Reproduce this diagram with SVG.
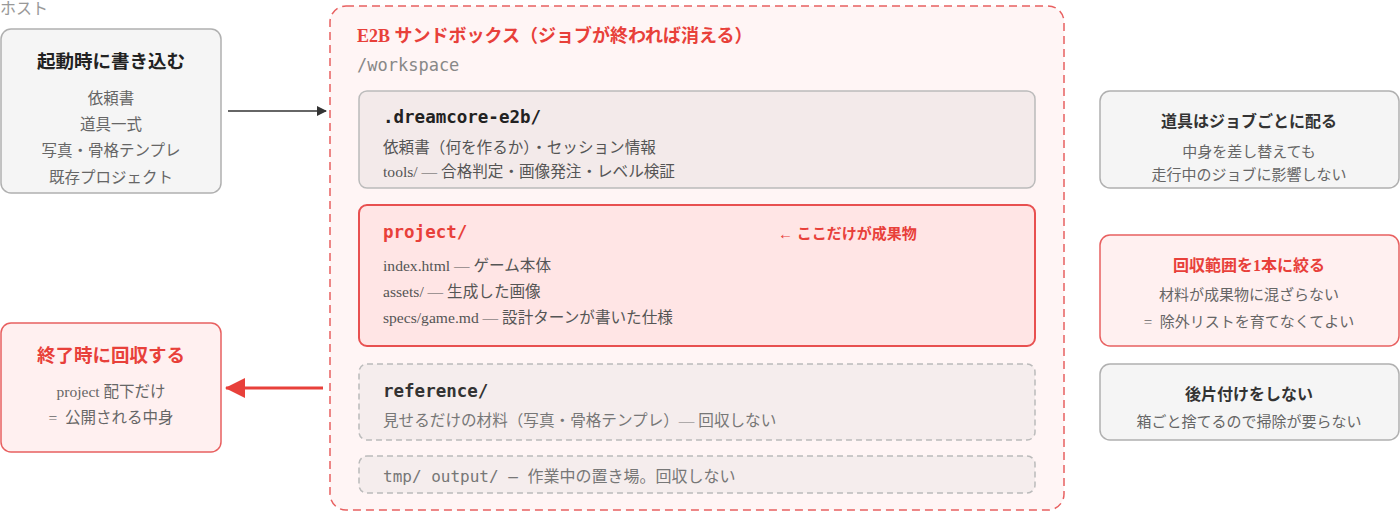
<svg xmlns="http://www.w3.org/2000/svg" width="1400" height="512" viewBox="0 0 1400 512">
<defs>
<marker id="ah" markerWidth="10" markerHeight="10" refX="9" refY="5" orient="auto" markerUnits="userSpaceOnUse"><path d="M0,0 L10,5 L0,10 Z" fill="#333"/></marker>
<marker id="ahr" markerWidth="20" markerHeight="20" refX="19" refY="10" orient="auto" markerUnits="userSpaceOnUse"><path d="M0,0 L20,10 L0,20 Z" fill="#e8403a"/></marker>
<style>
text{font-family:"Liberation Serif","Noto Sans CJK JP",serif;}
.t{font-size:18.5px;font-weight:bold;text-anchor:middle;fill:#222;}
.tr{font-size:18.5px;font-weight:bold;text-anchor:middle;fill:#e8403a;}
.l{font-size:15.5px;text-anchor:middle;fill:#666;}
.rl{font-size:15px;text-anchor:middle;fill:#666;}
.rt{font-size:16px;font-weight:bold;text-anchor:middle;fill:#333;}
.rtr{font-size:16px;font-weight:bold;text-anchor:middle;fill:#e8403a;}
.b{font-size:15.6px;fill:#555;}
.mono{font-family:"DejaVu Sans Mono","Noto Sans CJK JP",monospace;}
.g{fill:#f5f5f5;stroke:#b0b0b0;stroke-width:1.5;}
.r{fill:#fff0f0;stroke:#e86060;stroke-width:1.5;}
</style>
</defs>
<text x="0" y="14" font-size="16" fill="#999">ホスト</text>
<g id="sandbox">
<rect x="330" y="6" width="734" height="504" rx="16" fill="#fff5f5" stroke="#e86060" stroke-width="1.5" stroke-dasharray="8,5"/>
<text x="357" y="42" font-size="18" font-weight="bold" fill="#e8403a">E2B サンドボックス（ジョブが終われば消える）</text>
<text x="357" y="71" class="mono" font-size="17" fill="#888">/workspace</text>
</g>
<g id="dreamcore">
<rect x="359" y="91" width="676" height="97" rx="8" fill="#f3eaea" stroke="#bbb" stroke-width="1.5"/>
<text x="383" y="123" class="mono" font-size="17.5" font-weight="bold" fill="#222">.dreamcore-e2b/</text>
<text x="383" y="153" class="b">依頼書（何を作るか）・セッション情報</text>
<text x="383" y="177" class="b">tools/ — 合格判定・画像発注・レベル検証</text>
</g>
<g id="project">
<rect x="359" y="205" width="676" height="141" rx="8" fill="#ffe5e5" stroke="#e85050" stroke-width="2"/>
<text x="383" y="238" class="mono" font-size="17.5" font-weight="bold" fill="#e8403a">project/</text>
<text x="778" y="239" font-size="15" font-weight="bold" fill="#e8403a">← ここだけが成果物</text>
<text x="383" y="271" class="b">index.html — ゲーム本体</text>
<text x="383" y="297" class="b">assets/ — 生成した画像</text>
<text x="383" y="323" class="b">specs/game.md — 設計ターンが書いた仕様</text>
</g>
<g id="reference">
<rect x="359" y="364" width="676" height="76" rx="8" fill="#f5eded" stroke="#bbb" stroke-width="1.5" stroke-dasharray="6,4"/>
<text x="383" y="397" class="mono" font-size="17.5" font-weight="bold" fill="#333">reference/</text>
<text x="383" y="426" class="b" style="fill:#777">見せるだけの材料（写真・骨格テンプレ）— 回収しない</text>
</g>
<g id="tmp">
<rect x="359" y="456" width="676" height="37" rx="8" fill="#f5eded" stroke="#bbb" stroke-width="1.5" stroke-dasharray="6,4"/>
<text x="383" y="482" class="mono" font-size="16" fill="#777">tmp/ output/ – 作業中の置き場。回収しない</text>
</g>
<g id="write-at-start">
<rect x="1" y="29" width="220" height="164" rx="10" class="g"/>
<text x="111" y="68" class="t">起動時に書き込む</text>
<text x="111" y="104" class="l">依頼書</text>
<text x="111" y="130" class="l">道具一式</text>
<text x="111" y="156" class="l">写真・骨格テンプレ</text>
<text x="111" y="183" class="l">既存プロジェクト</text>
</g>
<g id="collect-at-end">
<rect x="1" y="323" width="220" height="129" rx="10" class="r"/>
<text x="111" y="362" class="tr">終了時に回収する</text>
<text x="111" y="397" class="l">project 配下だけ</text>
<text x="111" y="423" class="l">=&#160; 公開される中身</text>
</g>
<g id="tools-per-job">
<rect x="1100" y="91" width="299" height="97" rx="10" class="g"/>
<text x="1249" y="127" class="rt">道具はジョブごとに配る</text>
<text x="1249" y="157" class="rl">中身を差し替えても</text>
<text x="1249" y="180" class="rl">走行中のジョブに影響しない</text>
</g>
<g id="one-scope">
<rect x="1100" y="235" width="299" height="111" rx="10" class="r"/>
<text x="1249" y="271" class="rtr">回収範囲を1本に絞る</text>
<text x="1249" y="300" class="rl">材料が成果物に混ざらない</text>
<text x="1249" y="327" class="rl">=&#160; 除外リストを育てなくてよい</text>
</g>
<g id="no-cleanup">
<rect x="1100" y="364" width="299" height="76" rx="10" class="g"/>
<text x="1249" y="400" class="rt">後片付けをしない</text>
<text x="1249" y="427" class="rl">箱ごと捨てるので掃除が要らない</text>
</g>
<g id="connectors">
<line x1="228" y1="111" x2="326" y2="111" stroke="#333" stroke-width="1.5" marker-end="url(#ah)"/>
<line x1="323" y1="388" x2="226" y2="388" stroke="#e8403a" stroke-width="3" marker-end="url(#ahr)"/>
</g>
</svg>
